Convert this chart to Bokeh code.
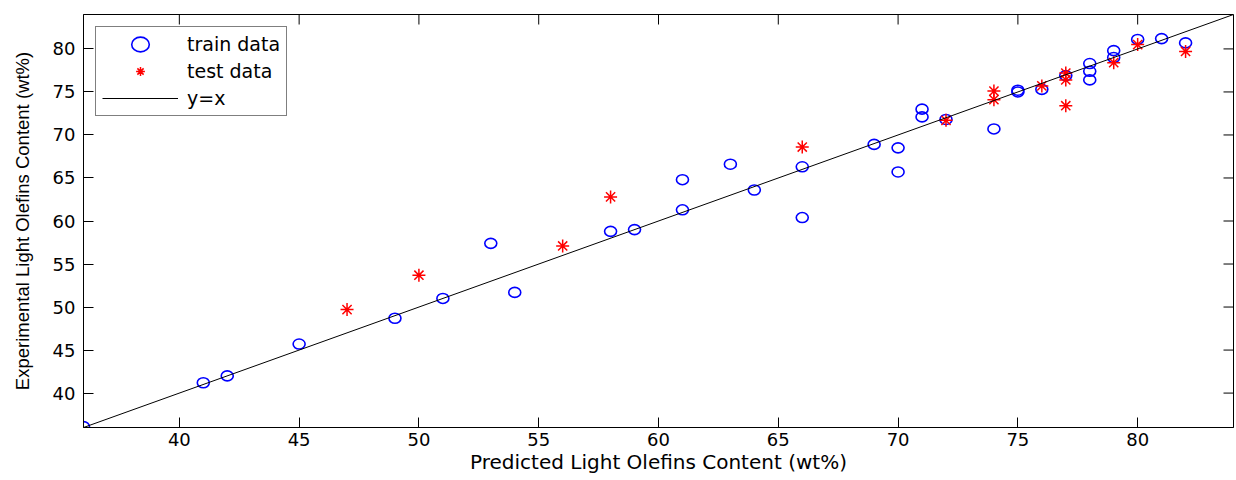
import math
from bokeh.plotting import figure
from bokeh.models import Range1d, FixedTicker, Legend, LegendItem
from bokeh.embed import file_html
from bokeh.resources import INLINE

# ---- data ----
train_x = [36, 41, 42, 45, 49, 51, 53, 54, 58, 59, 61, 61, 63, 64, 66, 66, 69, 70, 70,
           71, 71, 72, 74, 75, 75, 76, 77, 78, 78, 78, 79, 79, 80, 81, 82]
train_y = [36.1, 41.2, 42.0, 45.7, 48.7, 51.0, 57.4, 51.7, 58.8, 59.0, 61.3, 64.8, 66.6,
           63.6, 66.3, 60.4, 68.9, 68.5, 65.7, 73.0, 72.1, 71.8, 70.7, 75.2, 75.0, 75.3,
           76.9, 78.3, 77.4, 76.4, 79.8, 79.0, 81.1, 81.2, 80.7]

test_x = [47, 50, 56, 58, 66, 72, 74, 74, 76, 77, 77, 77, 79, 80, 82]
test_y = [49.7, 53.7, 57.1, 62.8, 68.6, 71.7, 75.1, 74.1, 75.7, 77.2, 76.4, 73.4, 78.4, 80.5, 79.7]

identity_line = [36, 84]          # y = x reference line end points
axis_range = (36, 84)
tick_values = [40, 45, 50, 55, 60, 65, 70, 75, 80]

x_label = "Predicted Light Olefins Content (wt%)"
y_label = "Experimental Light Olefins Content (wt%)"
legend_labels = ["train data", "test data", "y=x"]

# ---- figure ----
p = figure(width=1234, height=478,
           x_range=Range1d(*axis_range), y_range=Range1d(*axis_range),
           output_backend="svg", toolbar_location=None,
           min_border_left=83, min_border_right=1, min_border_top=14, min_border_bottom=51)
p.background_fill_color = "white"
p.border_fill_color = "white"
p.outline_line_color = "black"
p.outline_line_width = 1
p.grid.visible = False

ticker = FixedTicker(ticks=tick_values)

for ax in (p.xaxis[0], p.yaxis[0]):
    ax.ticker = ticker
    ax.axis_line_color = "black"
    ax.axis_line_width = 1
    ax.major_tick_line_color = "black"
    ax.major_tick_line_width = 1
    ax.major_tick_in = 10
    ax.major_tick_out = 0
    ax.minor_tick_line_color = None
    ax.major_label_text_color = "black"
    ax.major_label_text_font = "DejaVu Sans"
    ax.major_label_text_font_size = "18px"
    ax.axis_label_text_font_style = "normal"
    ax.axis_label_text_color = "black"

p.xaxis[0].major_label_standoff = 5
p.yaxis[0].major_label_standoff = 8

p.xaxis[0].axis_label = x_label
p.xaxis[0].axis_label_text_font = "DejaVu Sans"
p.xaxis[0].axis_label_text_font_size = "20px"
p.xaxis[0].axis_label_standoff = 1

p.yaxis[0].axis_label = y_label
p.yaxis[0].axis_label_text_font = "Liberation Sans"
p.yaxis[0].axis_label_text_font_size = "18.5px"
p.yaxis[0].axis_label_standoff = 17

# inward ticks on the top and right edges of the box (half of each dash is clipped by the frame)
p.scatter(x=tick_values, y=[axis_range[1]] * len(tick_values), marker="dash", size=20,
          angle=math.pi / 2, line_color="black", line_width=1)
p.scatter(x=[axis_range[1]] * len(tick_values), y=tick_values, marker="dash", size=20,
          line_color="black", line_width=1)

# ---- glyphs ----
r_train = p.ellipse(x=train_x, y=train_y, width=12, height=10,
                    width_units="screen", height_units="screen",
                    fill_color=None, line_color="#0000ff", line_width=1.6)
r_test = p.scatter(x=test_x, y=test_y, marker="asterisk", size=13,
                   line_color="#ff0000", line_width=1.5)
r_line = p.line(x=identity_line, y=identity_line, line_color="black", line_width=1)

legend = Legend(items=[LegendItem(label=legend_labels[0], renderers=[r_train]),
                       LegendItem(label=legend_labels[1], renderers=[r_test]),
                       LegendItem(label=legend_labels[2], renderers=[r_line])],
                location="top_left")
legend.margin = 12
legend.padding = 6
legend.spacing = 5
legend.glyph_width = 76
legend.glyph_height = 22
legend.label_standoff = 9
legend.label_text_font = "DejaVu Sans"
legend.label_text_font_size = "19px"
legend.label_text_color = "black"
legend.border_line_color = "black"
legend.border_line_width = 1
legend.background_fill_color = "white"
legend.background_fill_alpha = 1.0
p.add_layout(legend)

open("out.html", "w").write(file_html(p, INLINE))
